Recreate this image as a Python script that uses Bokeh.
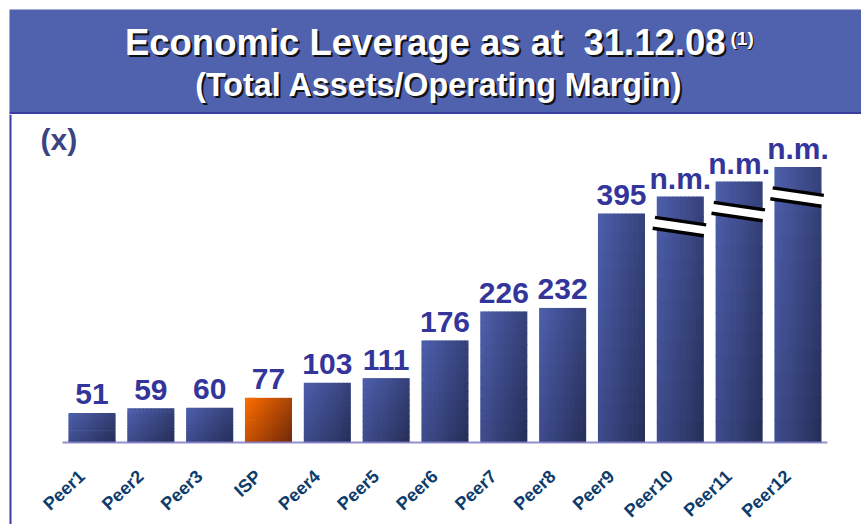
import numpy as np
from bokeh.plotting import figure
from bokeh.layouts import column
from bokeh.models import Range1d, BoxAnnotation, Label
from bokeh.core.properties import value
from bokeh.embed import file_html
from bokeh.resources import INLINE

# ---------------- data ----------------
categories = ["Peer1", "Peer2", "Peer3", "ISP", "Peer4", "Peer5", "Peer6",
              "Peer7", "Peer8", "Peer9", "Peer10", "Peer11", "Peer12"]
values = [51, 59, 60, 77, 103, 111, 176, 226, 232, 395, None, None, None]
value_labels = ["51", "59", "60", "77", "103", "111", "176", "226", "232",
                "395", "n.m.", "n.m.", "n.m."]
# drawn height of the "not meaningful" (broken) bars
nm_display_height = [424, 450, 475]
highlight = "ISP"

title_line1 = "Economic Leverage as at\u00a0 31.12.08"
title_sup = "(1)"
title_line2 = "(Total Assets/Operating Margin)"
unit_label = "(x)"

# ---------------- layout / style ----------------
W = 861
BANNER_H = 114
CHART_H = 410
PX_X = 58.83          # pixels per category step
PX_Y = 0.58           # pixels per unit of leverage
BASE_FROM_BOTTOM = 82  # px from chart bottom to baseline
FIRST_CENTER = 91.5    # px of first bar centre
BAR_W = 0.8
FONT_NAME = "Liberation Sans"
FONT = value(FONT_NAME)

BANNER = "#5061AE"
BORDER = "#3B3DA0"
VALUE_COL = "#33359B"
TICK_COL = "#0D3C6C"
UNIT_COL = "#3A4482"

BLUE0 = np.array([78, 96, 174])
BLUE1 = np.array([38, 46, 88])
ORNG0 = np.array([255, 110, 0])
ORNG1 = np.array([112, 40, 8])

n = len(categories)
xs = np.arange(n)
nm_iter = iter(nm_display_height)
heights = [v if v is not None else next(nm_iter) for v in values]

# ---------------- banner ----------------
b = figure(width=W, height=BANNER_H, x_range=Range1d(0, W), y_range=Range1d(0, BANNER_H),
           output_backend="svg", toolbar_location=None,
           x_axis_location=None, y_axis_location=None, min_border=0)
b.grid.visible = False
b.outline_line_color = None
b.background_fill_color = "white"
b.border_fill_color = "white"
b.quad(left=9, right=W, bottom=2, top=BANNER_H - 9, color=BANNER, line_color=None)
b.quad(left=9, right=W, bottom=0, top=2.5, color=BORDER, line_color=None)

for dx, col in ((2, "#111111"), (0, "white")):
    b.text(x=[424.7], y=[71.8], text=[title_line1], x_offset=dx, y_offset=dx,
           text_align="center", text_baseline="middle",
           text_font=FONT, text_font_style="bold", text_font_size="36.5px", text_color=col)
    b.text(x=[730], y=[76.5], text=[title_sup], x_offset=dx * 0.6, y_offset=dx * 0.6,
           text_align="left", text_baseline="middle",
           text_font=FONT, text_font_style="bold", text_font_size="19px", text_color=col)
    b.text(x=[438.4], y=[29.3], text=[title_line2], x_offset=dx, y_offset=dx,
           text_align="center", text_baseline="middle",
           text_font=FONT, text_font_style="bold", text_font_size="32.3px", text_color=col)

# ---------------- chart ----------------
x0 = -FIRST_CENTER / PX_X
p = figure(width=W, height=CHART_H,
           x_range=Range1d(x0, x0 + W / PX_X),
           y_range=Range1d(-BASE_FROM_BOTTOM / PX_Y, (CHART_H - BASE_FROM_BOTTOM) / PX_Y),
           output_backend="svg", toolbar_location=None,
           x_axis_location=None, y_axis_location=None, min_border=0)
p.grid.visible = False
p.outline_line_color = None
p.background_fill_color = "white"
p.border_fill_color = "white"

# gradient bars built from a grid of quads
NX, NY = 12, 12
L, R, B, T, C = [], [], [], [], []
for i, (cat, h) in enumerate(zip(categories, heights)):
    c0, c1 = (ORNG0, ORNG1) if cat == highlight else (BLUE0, BLUE1)
    for a in range(NX):
        for k in range(NY):
            u = (a + 0.5) / NX
            w = (k + 0.5) / NY
            t = 0.6 * u + 0.4 * w
            rgb = (c0 + (c1 - c0) * t).astype(int)
            left = i - BAR_W / 2 + a * BAR_W / NX
            right = i - BAR_W / 2 + (a + 1) * BAR_W / NX + (0.012 if a < NX - 1 else 0)
            top = h * (1 - k / NY)
            bot = h * (1 - (k + 1) / NY) - (1.2 if k < NY - 1 else 0)
            L.append(left); R.append(right); B.append(max(bot, 0)); T.append(top)
            C.append("#%02x%02x%02x" % tuple(rgb))
p.quad(left=L, right=R, bottom=B, top=T, fill_color=C, line_color=None)

# baseline
p.line(x=[-0.5, n - 0.5], y=[0, 0], line_color="#7F7CC6", line_width=2.2, line_alpha=0.85)

# break marks on the n.m. bars
off = 52
sep = 5.6 / PX_Y
tilt = 4.3 / PX_Y
wx, wy, l1x, l1y, l2x, l2y = [], [], [], [], [], []
for i, (v, h) in enumerate(zip(values, heights)):
    if v is not None:
        continue
    yc = h - off
    wx.append([i - 0.5, i + 0.5, i + 0.5, i - 0.5])
    wy.append([yc + sep + tilt * 1.19, yc + sep - tilt * 1.19, yc - sep - tilt * 1.19, yc - sep + tilt * 1.19])
    l1x.append([i - 0.43, i + 0.44]); l1y.append([yc + sep + tilt * 0.86, yc + sep - tilt * 0.88])
    l2x.append([i - 0.47, i + 0.40]); l2y.append([yc - sep + tilt * 0.94, yc - sep - tilt * 0.80])
p.patches(xs=wx, ys=wy, fill_color="white", line_color=None)
p.multi_line(xs=l1x + l2x, ys=l1y + l2y, line_color="black", line_width=3.4)

# value labels
p.text(x=xs, y=heights, text=value_labels, y_offset=-18.5,
       text_align="center", text_baseline="middle",
       text_font=FONT, text_font_style="bold", text_font_size="30px", text_color=VALUE_COL)

# category labels (rotated)
p.text(x=xs, y=[0] * n, text=categories, x_offset=-10, y_offset=31, angle=0.75,
       text_align="right", text_baseline="middle",
       text_font=FONT, text_font_style="bold", text_font_size="18px", text_color=TICK_COL)

# unit label
p.add_layout(Label(x=40, y=385.5, x_units="screen", y_units="screen", text=unit_label,
                   text_font=FONT_NAME, text_font_style="bold", text_font_size="30px",
                   text_color=UNIT_COL, text_baseline="middle"))

# left border of chart area
p.add_layout(BoxAnnotation(left=9, right=11, left_units="screen", right_units="screen",
                           fill_color=BORDER, fill_alpha=1, line_color=None))

layout = column(b, p, spacing=0)
open("out.html", "w").write(file_html(layout, INLINE))
